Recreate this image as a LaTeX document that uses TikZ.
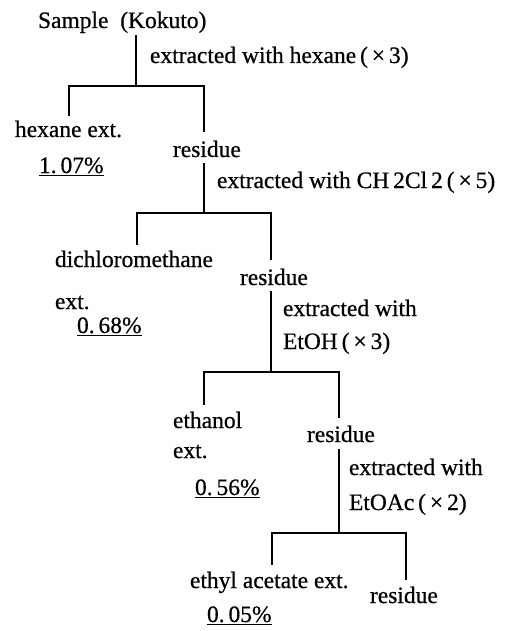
\documentclass[tikz,border=0pt]{standalone}
\usepackage{fontspec}
\setmainfont[FakeBold=0.6]{Liberation Serif}
\begin{document}
\begin{tikzpicture}[x=1pt,y=1pt,
  lbl/.style={anchor=base west, inner sep=0pt, outer sep=0pt, font=\fontsize{23.5}{27}\selectfont},
  ln/.style={line width=1.2pt, line cap=butt}]
\useasboundingbox (0,0) rectangle (509,-631);
% stage 1
\node[lbl] (s) at (38,-28) {Sample\ \ (Kokuto)};
\node[lbl] (t1) at (150,-63) {extracted with hexane\,(\,×\,3)};
\node[lbl] (hx) at (15,-137) {hexane ext.};
\node[lbl] (p1) at (39,-173) {\underline{1.\,07\%}};
\node[lbl] (r1) at (173,-157) {residue};
\coordinate (k1) at (136,-35);
\coordinate (j1) at (136,-86);
\coordinate (b1l) at (69,-116);
\coordinate (b1r) at (204,-132);
\draw[ln] (k1) -- (j1);
\draw[ln] (b1l) |- (j1) -| (b1r);
% stage 2
\node[lbl] (t2) at (217,-188) {extracted with CH\,2Cl\,2\,(\,×\,5)};
\node[lbl] (dcm) at (55,-267) {dichloromethane};
\node[lbl] (ext2) at (55,-309) {ext.};
\node[lbl] (p2) at (77,-333) {\underline{0.\,68\%}};
\node[lbl] (r2) at (240,-285) {residue};
\coordinate (k2) at (204,-163);
\coordinate (j2) at (204,-213);
\coordinate (b2l) at (137,-245);
\coordinate (b2r) at (271,-260);
\draw[ln] (k2) -- (j2);
\draw[ln] (b2l) |- (j2) -| (b2r);
% stage 3
\node[lbl] (t3a) at (283,-316) {extracted with};
\node[lbl] (t3b) at (283,-349) {EtOH\,(\,×\,3)};
\node[lbl] (eth) at (173,-428) {ethanol};
\node[lbl] (ext3) at (173,-458) {ext.};
\node[lbl] (p3) at (195,-495) {\underline{0.\,56\%}};
\node[lbl] (r3) at (307,-442) {residue};
\coordinate (k3) at (271,-291);
\coordinate (j3) at (271,-372);
\coordinate (b3l) at (204,-405);
\coordinate (b3r) at (339,-418);
\draw[ln] (k3) -- (j3);
\draw[ln] (b3l) |- (j3) -| (b3r);
% stage 4
\node[lbl] (t4a) at (349,-475) {extracted with};
\node[lbl] (t4b) at (349,-510) {EtOAc\,(\,×\,2)};
\node[lbl] (ea) at (190,-588) {ethyl acetate ext.};
\node[lbl] (p4) at (207,-622) {\underline{0.\,05\%}};
\node[lbl] (r4) at (370,-603) {residue};
\coordinate (k4) at (339,-449);
\coordinate (j4) at (339,-533);
\coordinate (b4l) at (272,-565);
\coordinate (b4r) at (406,-580);
\draw[ln] (k4) -- (j4);
\draw[ln] (b4l) |- (j4) -| (b4r);
\end{tikzpicture}
\end{document}
